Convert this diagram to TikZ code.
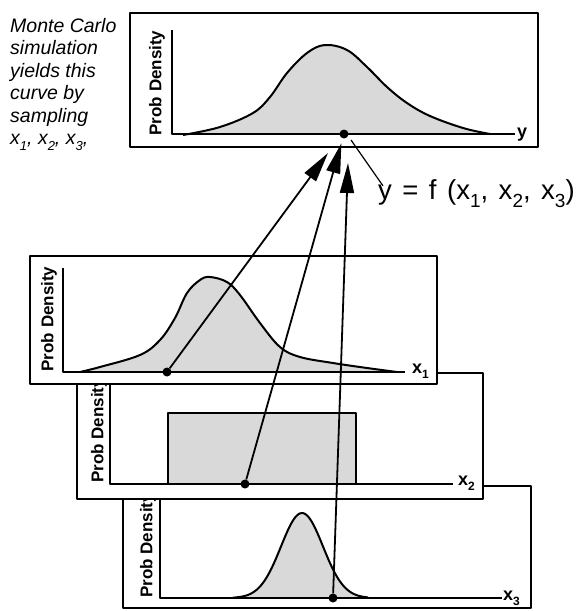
\documentclass[tikz,border=0pt]{standalone}
\usepackage{fontspec}
\setmainfont{Liberation Sans}
\usetikzlibrary{arrows.meta}
\newcommand{\sbs}[2][12]{\raisebox{-0.3em}{\fontsize{#1}{#1}\selectfont #2}}
\begin{document}
\begin{tikzpicture}[x=1pt,y=-1pt, line join=round,
  frame/.style={draw=black, line width=2pt, fill=white},
  axis/.style={line width=2pt},
  curve/.style={line width=2pt},
  shade/.style={fill=black!15},
  dot/.style={circle, fill=black, inner sep=0pt, minimum size=9pt},
  arr/.style={line width=1.8pt, -{Triangle[length=30pt,width=14pt]}},
  ylab/.style={font=\fontsize{17}{17}\selectfont\bfseries, rotate=90, inner sep=0pt},
  xlab/.style={font=\fontsize{18}{18}\selectfont\bfseries, anchor=base west, inner sep=0pt},
  mctext/.style={font=\fontsize{19.5}{22}\selectfont\itshape, anchor=base west, inner sep=0pt},
]
\useasboundingbox (0,0) rectangle (582,611);

% ---------- box 3 (x3) ----------
\draw[frame] (123,486) rectangle (531,608);
\node[ylab, anchor=west] (p3) at (148,598) {Prob Density};
\fill[shade] plot[domain=233:368, samples=70] (\x, {598-85*exp(-((\x-302)^2)/(2*21^2))}) -- cycle;
\draw[curve] plot[domain=233:368, samples=70] (\x, {598-85*exp(-((\x-302)^2)/(2*21^2))});
\draw[axis] (160,480) -- (160,598) -- (502,598);
\node[xlab] (lx3) at (503,600) {x\sbs{3}};
\node[dot] (d3) at (333,598) {};

% ---------- box 2 (x2) ----------
\draw[frame] (77,373) rectangle (483,499);
\node[ylab, anchor=west] (p2) at (99,483) {Prob Density};
\draw[curve, shade] (168,484) rectangle (356,413);
\draw[axis] (110,370) -- (110,484) -- (453,484);
\node[xlab] (lx2) at (458,485) {x\sbs{2}};
\node[dot] (d2) at (245,484) {};

% ---------- box 1 (x1) ----------
\draw[frame] (30,256) rectangle (437,384);
\node[ylab] (p1) at (49,319) {Prob Density};
\fill[shade] plot[smooth, tension=0.6] coordinates {(80,372) (100,367) (140,355) (160,340) (175,318) (187,293) (200,280) (210,277) (227,282) (240,295) (260,323) (280,347) (300,357) (333,363) (367,368) (397,372)} -- cycle;
\draw[curve] plot[smooth, tension=0.6] coordinates {(80,372) (100,367) (140,355) (160,340) (175,318) (187,293) (200,280) (210,277) (227,282) (240,295) (260,323) (280,347) (300,357) (333,363) (367,368) (397,372)};
\draw[axis] (63,268) -- (63,372) -- (405,372);
\node[xlab] (lx1) at (412,373) {x\sbs{1}};
\node[dot] (d1) at (167,372) {};

% ---------- top box (y) ----------
\draw[frame] (130,13) rectangle (538,147);
\node[ylab] (p0) at (157,83) {Prob Density};
\fill[shade] plot[smooth, tension=0.6] coordinates {(183,135) (220,127) (253,113) (270,97) (287,73) (307,53) (325,45) (347,50) (367,67) (387,87) (407,103) (430,116) (463,128) (490,134)} -- cycle;
\draw[curve] plot[smooth, tension=0.6] coordinates {(183,135) (220,127) (253,113) (270,97) (287,73) (307,53) (325,45) (347,50) (367,67) (387,87) (407,103) (430,116) (463,128) (490,134)};
\draw[axis] (172,30) -- (172,134) -- (515,134);
\node[xlab] (ly) at (517,137) {y};
\node[dot] (dy) at (344,134) {};

% ---------- left text ----------
\node[mctext] (m1) at (10,32) {Monte Carlo};
\node[mctext] (m2) at (10,54.5) {simulation};
\node[mctext] (m3) at (10,77) {yields this};
\node[mctext] (m4) at (10,99.5) {curve by};
\node[mctext] (m5) at (10,122) {sampling};
\node[mctext] (m6) at (10,144.5) {x\sbs[13]{1}, x\sbs[13]{2}, x\sbs[13]{3},};

% ---------- function label ----------
\node[font=\fontsize{27.5}{27.5}\selectfont, anchor=base west, inner sep=0pt] (fl) at (378,199)
  {\spaceskip=10.5pt y = f (x\sbs[19]{1}, x\sbs[19]{2}, x\sbs[19]{3})};
\draw[line width=1.2pt] ([shift={(7pt,-6pt)}]dy.center) -- ([shift={(5pt,-7pt)}]fl.north west);

% ---------- arrows ----------
\coordinate (t1) at (328,153);
\coordinate (t3) at (348,163);
\draw[arr] (d1) -- (t1);
\draw[arr, shorten >=5pt] (d2) -- (dy);
\draw[arr] (d3) -- (t3);
\end{tikzpicture}
\end{document}
